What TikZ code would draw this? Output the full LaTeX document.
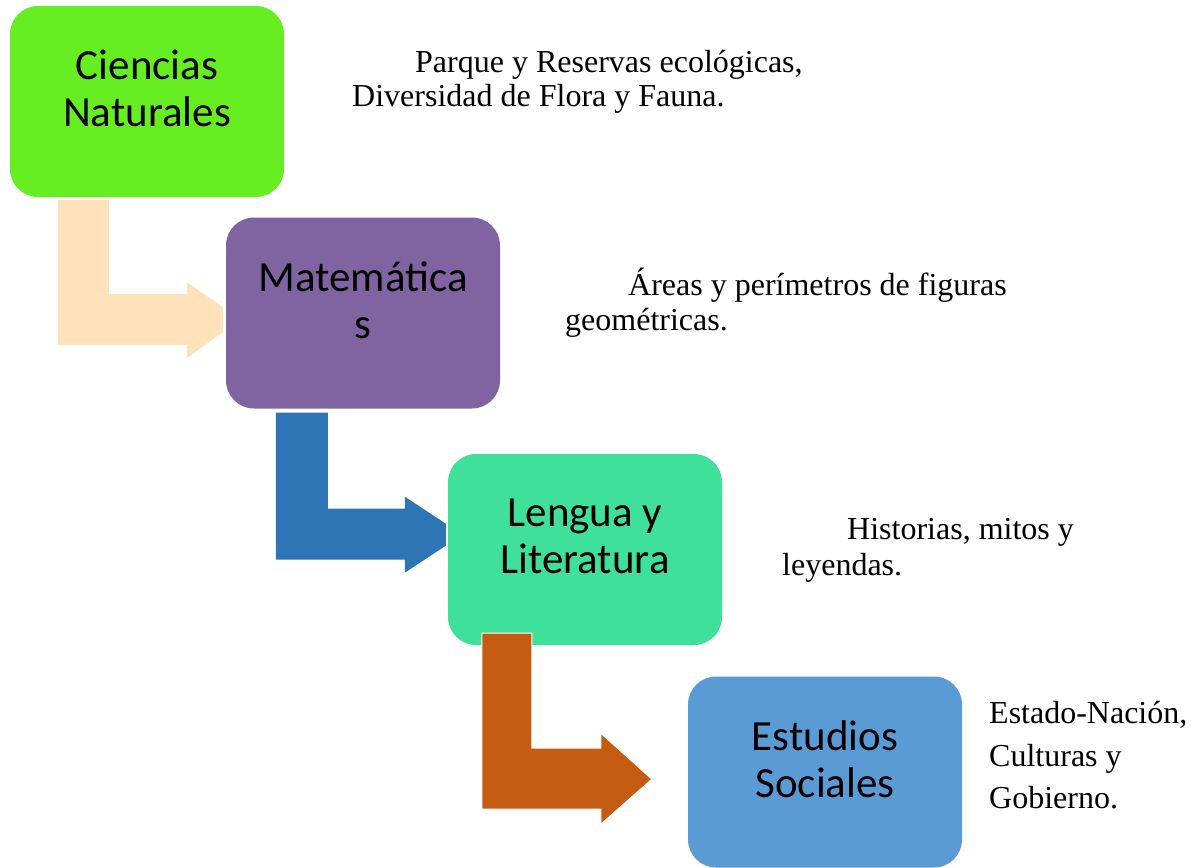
\documentclass[tikz,border=0pt]{standalone}
\usepackage{fontspec}
\setmainfont{Liberation Serif}
\newfontfamily\calibrifont{Carlito}
\usetikzlibrary{calc}
\definecolor{cgreen}{HTML}{66EE22}
\definecolor{cpurple}{HTML}{8064A2}
\definecolor{cteal}{HTML}{3FE19A}
\definecolor{cblue}{HTML}{5B9BD5}
\definecolor{cpeach}{HTML}{FFE1BA}
\definecolor{cdarkblue}{HTML}{2E75B6}
\definecolor{corange}{HTML}{C55A11}
\tikzset{
  box/.style={rectangle, rounded corners=28pt, minimum width=274pt, minimum height=191pt, inner sep=0pt, draw=none},
  boxtext/.style={font=\calibrifont\fontsize{43}{47}\selectfont, align=center, inner sep=0pt},
  desc/.style={font=\fontsize{32}{34}\selectfont, anchor=base west, inner sep=0pt},
  bentarrow/.style={draw=white, line width=1pt}
}
\begin{document}
\begin{tikzpicture}[x=1pt, y=-1pt]
\useasboundingbox (0,0) rectangle (1198,867);
% boxes
\node[box, fill=cgreen] (cn) at (147,101.5) {};
\node[box, fill=cpurple] (ma) at (363,313) {};
\node[box, fill=cteal] (ll) at (585,549.5) {};
\node[box, fill=cblue] (es) at (825,772) {};
% box texts
\node[boxtext] (cnt) at ($(cn.center)+(0,-13)$) {Ciencias\\Naturales};
\node[boxtext] (mat) at ($(ma.center)+(0,-13)$) {Matemática\\s};
\node[boxtext] (llt) at ($(ll.center)+(0,-13)$) {Lengua y\\Literatura};
\node[boxtext] (est) at ($(es.center)+(0,-13)$) {Estudios\\Sociales};
% bent arrows
\fill[cpeach] ($(cn.south west)+(48,3)$) -- ++(51,0) -- ++(0,94) -- ++(78,0) -- ++(0,-12)
  -- ++(36,25) -- ++(0,25) -- ++(-36,26) -- ++(0,-13) -- ++(-129,0) -- cycle;
\fill[cdarkblue] ($(ma.south west)+(50,4)$) -- ++(52,0) -- ++(0,96) -- ++(77,0) -- ++(0,-12)
  -- ++(41,27) -- ++(0,22) -- ++(-41,27) -- ++(0,-13) -- ++(-129,0) -- cycle;
\filldraw[corange, bentarrow] ($(ll.south west)+(34,-12)$) -- ++(50,0) -- ++(0,115) -- ++(69,0) -- ++(0,-15)
  -- ++(51,46) -- ++(-51,45) -- ++(0,-15) -- ++(-119,0) -- cycle;
% descriptions
\node[desc] (t1a) at (415,72) {Parque y Reservas ecológicas,};
\node[desc] (t1b) at (352,106) {Diversidad de Flora y Fauna.};
\node[desc] (t2a) at (628,295) {Áreas y perímetros de figuras};
\node[desc] (t2b) at (565,330) {geométricas.};
\node[desc] (t3a) at (847,539) {Historias, mitos y};
\node[desc] (t3b) at (782,575) {leyendas.};
\node[desc] (t4a) at (989,723) {Estado-Nación,};
\node[desc] (t4b) at (989,766) {Culturas y};
\node[desc] (t4c) at (989,808) {Gobierno.};
\end{tikzpicture}
\end{document}
